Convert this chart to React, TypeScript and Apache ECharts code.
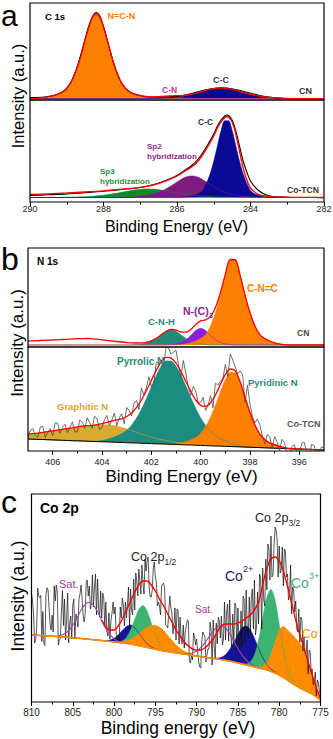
import React, { useEffect, useRef } from "react";
import * as echarts from "echarts";

const FONT = "'Liberation Sans', Arial, Helvetica, sans-serif";

/* ================= Panel a : C 1s  (290 -> 282 eV, sampled every 0.1 eV) ================= */
const aTopBg = 1.3;
const aNCNStart = 289.8;
const aNCN = [0.2,0.6,1.2,2,3,3.8,5.1,7.2,10.2,15.3,23,32.7,45,58.7,71.4,81.3,85,81.3,71.4,58.7,45,32.7,23,15.3,10.2,7.2,5.1,3.8,3,2,1.2,0.6,0.2];
const aCNStart = 287.0;
const aCN = [0.2,0.5,0.8,1.2,1.5,1.7,1.8,1.8,1.7,1.5,1.2,0.8,0.5,0.2,0.1];
const aCCStart = 286.7;
const aCC = [0.1,0.2,0.4,0.6,0.8,1.1,1.4,1.8,2.2,2.8,3.5,4.4,5.35,6.3,7.4,8.5,9.3,10.1,10.5,10.7,10.5,10.1,9.3,8.5,7.4,6.3,5.35,4.4,3.5,2.8,2.2,1.8,1.4,1.1,0.8,0.6,0.4,0.2,0.1];
const aTopData = [[290,2.5],[289.6,3],[289.3,5],[289.1,8.5],[289.0,12],[288.9,17],[288.8,25],[288.7,35],[288.6,47.5],[288.5,61],[288.4,74],[288.3,83.5],[288.2,87.5],[288.1,84],[288.0,73.5],[287.9,60.5],[287.8,46.5],[287.7,34],[287.6,24],[287.5,16.5],[287.4,11.5],[287.3,8.5],[287.2,6.5],[287.0,4.5],[286.8,3],[286.5,3],[286.2,3.3],[286.0,3.6],[285.8,5],[285.6,6.5],[285.4,8.5],[285.2,10.3],[285.0,11.5],[284.8,12.2],[284.6,11.8],[284.4,10.5],[284.2,8.8],[284.0,6.8],[283.8,5],[283.6,3.5],[283.4,2.5],[283.2,1.8],[283,1.5],[282.5,1.3],[282,1.3]];
const aBotBg = 4.5;
const aSp3Start = 289.1;
const aSp3 = [0.1,0.2,0.3,0.4,0.5,0.7,0.85,1.1,1.3,1.6,1.9,2.3,2.8,3.3,3.9,4.5,5.2,5.9,6.6,7.2,7.8,8.2,8.4,8.5,8.4,8.2,7.8,7.2,6.6,5.9,5.2,4.5,3.9,3.3,2.8,2.3,1.9,1.6,1.3,1.1,0.85,0.7,0.5,0.4,0.3,0.2,0.1];
const aSp2Start = 287.4;
const aSp2 = [0.1,0.3,0.5,0.8,1.2,1.6,2.2,3.0,3.9,5.1,6.7,8.6,10.75,13.1,15.5,17.8,19.9,21.1,21.5,21.1,19.9,17.8,15.5,13.1,10.75,8.6,6.7,5.1,3.9,3.0,2.2,1.6,1.2,0.8,0.5,0.3,0.1];
const aCC2Start = 285.8;
const aCC2 = [0.4,0.8,1.5,2.5,4,7,14,23.4,36.3,51.5,67,76.8,76.8,67,51.5,36.3,23.4,14,7,4,2.5,1.5,0.8,0.4];
const aBotFit = [[290,7.5],[289.5,8.2],[289,9],[288.5,10],[288,11.2],[287.5,12.8],[287,14.6],[286.6,17.5],[286.3,21],[286,26],[285.8,30.5],[285.6,35],[285.4,42],[285.2,53],[285.0,66],[284.9,74],[284.8,80],[284.7,84.5],[284.65,85.5],[284.6,85],[284.5,80],[284.4,68],[284.3,51],[284.2,34],[284.1,22],[284.0,14],[283.8,8],[283.6,6],[283.4,5.2],[283,4.8],[282.5,4.6],[282,4.5]];
const aBotData = [[290,6.5],[289.5,7.2],[289,8],[288.5,9.3],[288,10.8],[287.5,12.5],[287,14.5],[286.6,17.8],[286.3,21.5],[286,26.5],[285.8,31.5],[285.6,36.5],[285.4,44],[285.2,55],[285.0,68],[284.9,76],[284.8,82],[284.7,86],[284.65,87],[284.6,86.5],[284.5,82],[284.4,71],[284.3,56],[284.2,41],[284.1,30],[284.0,21],[283.8,12],[283.6,7.5],[283.4,5.5],[283,4.8],[282.5,4.5],[282,4.4]];

/* ================= Panel b : N 1s  (407 -> 395 eV, sampled every 0.2 eV) ================= */
const bTicks = [396, 398, 400, 402, 404, 406];
const bMinorTicks = [397, 399, 401, 403, 405];
const bTopBg = 2.0;
const bTopBumpStart = 407.0;
const bTopBump = [4.0,4.2,4.4,4.6,4.8,5.0,5.2,5.5,5.8,6.1,6.3,6.4,6.5,6.2,5.8,5.2,4.6,4.0,3.5,3.0,2.5,2.0,1.5,1.0,0.6,0.3,0.1];
const bCNHStart = 402.8;
const bCNH = [0.1,0.5,1.1,2.1,3.9,6.6,10.2,13.7,15,13.7,10.2,6.6,3.9,2.1,1.1,0.5,0.1];
const bNC3Start = 401.4;
const bNC3 = [0.1,0.5,1.2,2.5,5.2,9.4,14.4,16.7,14.4,9.4,5.2,2.5,1.2,0.5,0.1];
const bCNCStart = 400.8;
const bCNC = [0.3,1.0,2.2,4.0,6.4,10.2,19.1,32.3,49.7,69.7,85,85,69.7,49.7,32.3,19.1,10.2,6.4,4.0,2.2,1.0,0.3];
const bBotBg = [12.0,11.8,11.6,11.5,11.3,11.1,10.9,10.7,10.5,10.3,10.2,10.0,9.8,9.6,9.4,9.3,9.1,8.9,8.7,8.5,8.3,8.2,8.0,7.8,7.6,7.4,7.2,7.1,6.9,6.7,6.5,6.3,6.1,6.0,5.8,5.6,5.4,5.2,5.0,4.9,4.7,4.5,4.3,4.1,3.9,3.8,3.6,3.4,3.2,3.0,2.8,2.7,2.5,2.3,2.1,1.9,1.7,1.6,1.4,1.2,1.0];
const bGraphStart = 407.0;
const bGraph = [4.9,5.5,6.3,7.1,8.1,9.0,9.9,11.0,11.9,12.9,13.9,14.8,15.5,16.1,16.6,16.9,17,16.8,16.1,15.0,13.8,12.2,10.7,9.2,7.8,6.5,5.4,4.3,3.5,2.8,2.2,1.8,1.4,1.0,0.6,0.3,0.1];
const bPyrrStart = 404.2;
const bPyrr = [0.4,1.2,2.5,4.2,6.3,8.7,12.4,17.6,24.9,34.0,44.9,56.7,68.2,77.8,83.2,83.2,78.3,69.6,58.8,47.5,36.8,27.6,20.1,14.4,10.3,7.4,5.5,3.5,2.2,1.0,0.3];
const bPyriStart = 401.2;
const bPyri = [0.2,0.8,1.8,3.2,5.1,7.8,12.2,19,28.6,40.7,54.2,66.4,74,73.7,64.1,49.5,34.7,22.5,13.5,8.2,5.1,3.5,2.0,0.8,0.2];
const bNoiseA = [-3,5,-4,6,-1,-5,7,2,-4,6,-5,4,8,-3,6,-4,7,1,-6,5,9,-3,7,12,3,-6,8,2,11,4,13,-5,8,-4,9,3,-4,7,12,3,10,15,4,11,-5,8,2,9,-4,6,8,-4,5,-8,4,-5,7,-6,4,-3,2];
const bNoiseB = [4,-2,6,-5,3,8,-3,5,1,-4,7,-2,3,9,-5,4,-3,8,2,-5,6,10,-2,5,14,-3,7,-4,9,6,-2,11,-6,5,-3,8,1,-5,10,6,-2,9,-3,7,12,-4,6,-2,5,-5,3,7,-7,2,-4,6,-3,5,-5,3,0];

/* ================= Panel c : Co 2p  (810 -> 775 eV, sampled every 0.5 eV) ================= */
const cBg = [67.0,66.8,66.5,66.3,66.0,65.8,65.5,65.2,65.0,64.6,64.2,63.8,63.5,63.1,62.7,62.3,62.0,61.5,61.0,60.5,60.0,59.5,59.0,58.5,58.0,57.1,56.3,55.4,54.5,53.6,52.8,51.9,51.0,50.4,49.8,49.1,48.5,47.9,47.3,46.6,46.0,45.4,44.8,44.1,43.5,42.9,42.3,41.6,41.0,40.0,39.0,38.0,37.0,36.0,35.0,34.0,33.0,32.0,30.5,29.0,27.0,24.5,22.0,19.0,16.5,14.0,12.0,10.0,8.0,5.0,2.0];
const cSat1Start = 807.0;
const cSat1 = [0.5,1.3,3.2,6.8,12.5,20.1,28.2,34.6,37,34.6,28.2,20.1,12.5,6.8,3.2,1.3,0.5];
const cCo2aStart = 801.0;
const cCo2a = [0.5,1.5,3.7,7.6,12.6,17.1,19,17.1,12.6,7.6,3.7,1.5,0.5];
const cCo3aStart = 799.5;
const cCo3a = [0.5,2.0,6.0,13.9,25.3,36.3,41,36.3,25.3,13.9,6.0,2.0,0.5];
const cCoaStart = 800.0;
const cCoa = [0.3,0.7,1.5,2.9,5.0,8.1,12,16.2,20.2,23,24,23,20.2,16.2,12,8.1,5.0,2.9,1.5,0.7,0.3];
const cSat2Start = 791.5;
const cSat2 = [0.5,1.1,2.5,5.0,8.9,14.5,21,27.4,32.2,34,32.2,27.4,21,14.5,8.9,5.0,2.5,1.1,0.5];
const cCo2bStart = 788.0;
const cCo2b = [0.3,0.9,2.4,5.7,11.4,19.5,28.7,36.1,39,36.1,28.7,19.5,11.4,5.7,2.4,0.9,0.3];
const cCo3bStart = 784.5;
const cCo3b = [0.3,1.1,4.0,12,27.7,50.7,72.7,82,72.7,50.7,27.7,12,4.0,1.1,0.3];
const cCobStart = 783.0;
const cCob = [0.2,0.7,2.5,7.4,17.2,31.5,45,51,50,49,47,45,39,29,18,8,2];
const cFitStart = 801.5;
const cFit = [67,67,66.5,66.3,66,66,66,66.5,68,71,77,84,92,98,100,97,90,82,75,72,72,76,83,92,101,110,117,121,121,117,111,103,96,88,80,72,66,60,56,53,52,52,54,58,63,70,76,78,78,78,79,81,84,87,92,100,117,134,143,145,141,131,116,99,82,67,54,40,27,14,4];
// measured-trace scatter around the fit, at 0, 0.125, 0.25 and 0.375 eV below each sample
const cResidA = [42,-5,38,-8,46,21,51,-3,35,-12,20,-1,25,-10,16,-2,33,2,25,-9,16,-11,21,-8,12,-18,16,-3,20,-12,14,-7,23,-14,10,-10,19,-6,25,-11,11,-18,12,-5,19,-12,10,-16,24,-20,15,-26,28,-18,30,-22,17,-22,23,30,15,-15,12,-11,19,-7,11,-12,6,-8,4];
const cResidC = [34,7,40,-10,29,4,44,25,-6,7,26,-9,13,21,-7,18,5,27,-4,10,23,-15,14,6,-10,19,3,-13,24,-5,9,-16,17,2,-12,21,-4,11,-15,16,-2,9,-14,22,-8,15,-19,12,-9,21,-23,25,-11,19,-25,28,-15,24,-18,27,-12,22,-14,16,-9,18,-5,12,-10,8,0];
const cResidB = [21,47,-6,41,12,50,-9,45,14,15,-14,19,-5,24,-2,31,-5,22,-9,17,-3,19,-7,23,-14,11,-9,22,-6,17,-15,13,-19,18,-3,20,-8,16,-17,12,-12,18,-7,14,-19,11,-13,20,-24,18,-28,22,-20,26,-17,24,-21,19,-16,17,-8,20,-10,13,-12,15,-6,10,-7,5,-3];
const cResidD = [-8,39,24,48,6,35,-4,10,41,-8,11,24,-12,8,27,-10,21,-6,14,28,-13,8,17,-18,22,-4,20,10,-16,23,-11,15,-20,6,14,-14,11,22,-9,4,-17,15,-1,-21,16,-6,24,-17,10,-26,12,-22,21,-14,18,-27,26,-12,13,-20,14,-6,21,-9,11,-16,8,-10,3,-4,0];

/* ---------------- helpers that turn the arrays into series ---------------- */
function energyGrid(hi: number, lo: number, step: number): number[] {
  const n = Math.round((hi - lo) / step);
  const out: number[] = [];
  for (let i = 0; i <= n; i++) out.push(Math.round((hi - i * step) * 1000) / 1000);
  return out;
}
function place(g: number[], start: number, vals: number[]): number[] {
  const out = g.map(() => 0);
  const i0 = g.findIndex((e) => Math.abs(e - start) < 1e-6);
  vals.forEach((v, k) => {
    if (i0 >= 0 && i0 + k < out.length) out[i0 + k] = v;
  });
  return out;
}
function sumArrays(base: number[], ...arrs: number[][]): number[] {
  return base.map((b, i) => arrs.reduce((s, a) => s + a[i], b));
}
function pairs(g: number[], v: number[]) {
  return g.map((e, i) => [e, v[i]]);
}
// a fitted component drawn on top of its background (filled down to the axis; a white mask later hides what lies below the background)
function peak(id: string, ax: number, g: number[], base: number[], comp: number[], color: string, fill = true, width = 0.6): any {
  const s: any = {
    type: "line", name: id, xAxisIndex: ax, yAxisIndex: ax, symbol: "none", smooth: 0.3, silent: true,
    data: pairs(g, base.map((b, i) => b + comp[i])), lineStyle: { width, color },
  };
  if (fill) s.areaStyle = { color, opacity: 1, origin: "start" };
  return s;
}
// satellite outline only where the component is present
function outline(id: string, ax: number, g: number[], base: number[], comp: number[], color: string): any {
  const data = g.map((e, i) => [e, base[i] + comp[i]]).filter((_, i) => comp[i] > 0);
  return { type: "line", name: id, xAxisIndex: ax, yAxisIndex: ax, symbol: "none", smooth: 0.3, silent: true, data, lineStyle: { width: 1.1, color } };
}
function mask(id: string, ax: number, g: number[], base: number[]): any {
  return {
    type: "line", name: id, xAxisIndex: ax, yAxisIndex: ax, symbol: "none", smooth: false, silent: true,
    data: pairs(g, base), lineStyle: { width: 0, opacity: 0 }, areaStyle: { color: "#fff", opacity: 1, origin: "start" },
  };
}
function line(id: string, ax: number, data: number[][], color: string, width: number, smooth: number | boolean): any {
  return { type: "line", name: id, xAxisIndex: ax, yAxisIndex: ax, data, symbol: "none", smooth, silent: true, lineStyle: { color, width } };
}
function txt(text: string, x: number, y: number, size: number, color: string, weight = "normal", align = "left", rotation = 0): any {
  return {
    type: "text", x, y, rotation, silent: true, z: 100,
    style: { text, fill: color, fontSize: size, fontWeight: weight, fontFamily: FONT, align, verticalAlign: "middle" },
  };
}

function buildOption(): any {
  // ---- panel a
  const aE = energyGrid(290, 282, 0.1);
  const aTopBase = aE.map(() => aTopBg);
  const aNCNv = place(aE, aNCNStart, aNCN);
  const aCNv = place(aE, aCNStart, aCN);
  const aCCv = place(aE, aCCStart, aCC);
  const aTopFit = sumArrays(aTopBase, aNCNv, aCNv, aCCv);
  const aBotBase = aE.map(() => aBotBg);
  const aSp3v = place(aE, aSp3Start, aSp3);
  const aSp2v = place(aE, aSp2Start, aSp2);
  const aCC2v = place(aE, aCC2Start, aCC2);

  // ---- panel b
  const bE = energyGrid(407, 395, 0.2);
  const bTopBase = bE.map(() => bTopBg);
  const bBumpv = place(bE, bTopBumpStart, bTopBump);
  const bCNHv = place(bE, bCNHStart, bCNH);
  const bNC3v = place(bE, bNC3Start, bNC3);
  const bCNCv = place(bE, bCNCStart, bCNC);
  const bTopFit = sumArrays(bTopBase, bBumpv, bCNHv, bNC3v, bCNCv);
  const bGraphv = place(bE, bGraphStart, bGraph);
  const bPyrrv = place(bE, bPyrrStart, bPyrr);
  const bPyriv = place(bE, bPyriStart, bPyri);
  const bBotFit = sumArrays(bBotBg, bGraphv, bPyrrv, bPyriv);
  const bBotData: number[][] = [];
  bE.forEach((e, i) => {
    bBotData.push([e, bBotFit[i] + bNoiseA[i]]);
    if (i < bE.length - 1) bBotData.push([Math.round((e - 0.1) * 1000) / 1000, bBotFit[i] + bNoiseB[i]]);
  });

  // ---- panel c
  const cE = energyGrid(810, 775, 0.5);
  const cData: number[][] = [];
  cE.forEach((e, i) => {
    cData.push([e, cFit[i] + cResidA[i]]);
    if (i < cE.length - 1) {
      cData.push([e - 0.125, cFit[i] + cResidC[i]]);
      cData.push([e - 0.25, cFit[i] + cResidB[i]]);
      cData.push([e - 0.375, cFit[i] + cResidD[i]]);
    }
  });
  const cFitIdx = cE.findIndex((e) => Math.abs(e - cFitStart) < 1e-6);
  const cFitLine = cE.slice(cFitIdx).map((e, k) => [e, cFit[cFitIdx + k]]);

  const grids = [
    { left: 30, top: 3, width: 294, height: 97 },
    { left: 30, top: 100, width: 294, height: 102 },
    { left: 28, top: 248, width: 296, height: 99 },
    { left: 28, top: 347, width: 296, height: 104 },
    { left: 31.5, top: 494, width: 289, height: 208 },
  ].map((g) => ({ ...g, show: true, borderColor: "#000", borderWidth: 1.2, backgroundColor: "transparent", containLabel: false, outerBoundsMode: "none", z: 10 }));

  const hidden = (gi: number, min: number, max: number) => ({ gridIndex: gi, type: "value", min, max, inverse: true, show: false });
  const labelStyle = (size: number, margin: number) => ({ show: true, fontSize: size, color: "#222", fontFamily: FONT, margin });
  const xAxis = [
    hidden(0, 282, 290),
    {
      gridIndex: 1, type: "value", min: 282, max: 290, interval: 2, inverse: true,
      axisLine: { show: false }, splitLine: { show: false },
      axisTick: { show: true, inside: false, length: 4, lineStyle: { color: "#000", width: 1 } },
      minorTick: { show: true, splitNumber: 2, length: 2.5, lineStyle: { color: "#000", width: 1 } },
      axisLabel: labelStyle(9, 2.5),
    },
    hidden(2, 395, 407),
    {
      gridIndex: 3, type: "value", min: 395, max: 407, inverse: true, position: "bottom",
      axisLine: { show: false }, splitLine: { show: false },
      axisTick: { show: true, inside: false, length: 4, customValues: bTicks, lineStyle: { color: "#000", width: 1 } },
      axisLabel: { ...labelStyle(9, 6), customValues: bTicks },
    },
    {
      gridIndex: 4, type: "value", min: 775, max: 810, interval: 5, inverse: true,
      axisLine: { show: false }, splitLine: { show: false },
      axisTick: { show: true, inside: false, length: 4, lineStyle: { color: "#000", width: 1 } },
      minorTick: { show: true, splitNumber: 2, length: 2.5, lineStyle: { color: "#000", width: 1 } },
      axisLabel: labelStyle(10, 5.5),
    },
    {
      gridIndex: 3, type: "value", min: 395, max: 407, inverse: true, position: "bottom",
      axisLine: { show: false }, splitLine: { show: false }, axisLabel: { show: false },
      axisTick: { show: true, inside: false, length: 2.5, customValues: bMinorTicks, lineStyle: { color: "#000", width: 1 } },
    },
  ];
  const yAxis = [97, 102, 99, 104, 208].map((h, gi) => ({ gridIndex: gi, type: "value", min: 0, max: h, show: false }));

  const series: any[] = [
    // a top
    peak("aNCN", 0, aE, aTopBase, aNCNv, "#FF8000"),
    peak("aCN", 0, aE, aTopBase, aCNv, "#B040C0"),
    peak("aCC", 0, aE, aTopBase, aCCv, "#0A0A8C"),
    mask("aTopMask", 0, aE, aTopBase),
    line("aTopData", 0, aTopData, "#000", 1.1, 0.3),
    line("aTopFit", 0, pairs(aE, aTopFit), "#FF0000", 1.3, 0.3),
    // a bottom
    peak("aSp3", 1, aE, aBotBase, aSp3v, "#0A8A2A"),
    peak("aSp2", 1, aE, aBotBase, aSp2v, "#7E1A80"),
    peak("aCC2", 1, aE, aBotBase, aCC2v, "#0A0A96"),
    mask("aBotMask", 1, aE, aBotBase),
    line("aBotData", 1, aBotData, "#000", 1.1, 0.3),
    line("aBotFit", 1, aBotFit, "#FF0000", 1.3, 0.3),
    // b top
    peak("bCNH", 2, bE, bTopBase, bCNHv, "#1F8A78"),
    peak("bNC3", 2, bE, bTopBase, bNC3v, "#8A1FE0"),
    peak("bCNC", 2, bE, bTopBase, bCNCv, "#FF8000"),
    mask("bTopMask", 2, bE, bTopBase),
    line("bTopFit", 2, pairs(bE, bTopFit), "#FF0000", 1.3, 0.3),
    // b bottom
    peak("bGraph", 3, bE, bBotBg, bGraphv, "#D9AA30"),
    peak("bPyrr", 3, bE, bBotBg, bPyrrv, "#1B8C80"),
    peak("bPyri", 3, bE, bBotBg, bPyriv, "#FF8000"),
    mask("bBotMask", 3, bE, bBotBg),
    line("bBotBg", 3, pairs(bE, bBotBg), "#000", 1, false),
    line("bBotData", 3, bBotData, "#4a4a4a", 0.8, false),
    line("bBotFit", 3, pairs(bE, bBotFit), "#FF0000", 1.3, 0.3),
    // c
    peak("cCo2a", 4, cE, cBg, place(cE, cCo2aStart, cCo2a), "#141496"),
    peak("cCo3a", 4, cE, cBg, place(cE, cCo3aStart, cCo3a), "#3CB371"),
    peak("cCoa", 4, cE, cBg, place(cE, cCoaStart, cCoa), "#FF8C00"),
    peak("cCo2b", 4, cE, cBg, place(cE, cCo2bStart, cCo2b), "#141496"),
    peak("cCo3b", 4, cE, cBg, place(cE, cCo3bStart, cCo3b), "#3CB371"),
    peak("cCob", 4, cE, cBg, place(cE, cCobStart, cCob), "#FF8C00"),
    mask("cMask", 4, cE, cBg),
    line("cData", 4, cData, "#111", 0.7, false),
    outline("cSat1", 4, cE, cBg, place(cE, cSat1Start, cSat1), "#A040B0"),
    outline("cSat2", 4, cE, cBg, place(cE, cSat2Start, cSat2), "#A040B0"),
    line("cBg", 4, pairs(cE, cBg), "#FF8C00", 1.6, 0.3),
    line("cFit", 4, cFitLine, "#FF0000", 1.4, 0.3),
  ];

  const graphic = [
    txt("a", 1, 15.5, 30, "#000"),
    txt("b", 1, 259, 32, "#000"),
    txt("c", 1, 502, 32, "#000"),
    txt("Intensity (a.u.)", 17.5, 96, 16.5, "#000", "normal", "center", Math.PI / 2),
    txt("Intensity (a.u.)", 17.5, 343, 17, "#000", "normal", "center", Math.PI / 2),
    txt("Intensity (a.u.)", 17.5, 596, 17.5, "#000", "normal", "center", Math.PI / 2),
    txt("Binding Energy (eV)", 176.5, 226.5, 16, "#000", "normal", "center"),
    txt("Binding Energy (eV)", 181.5, 476.5, 17, "#000", "normal", "center"),
    txt("Binding energy (eV)", 178, 727.5, 17.5, "#000", "normal", "center"),
    // panel a
    txt("C 1s", 45, 16, 9.5, "#000", "bold"),
    txt("N=C-N", 107.5, 15.5, 9, "#FF8000", "bold"),
    txt("C-N", 162, 89.5, 8.5, "#B03A9A", "bold"),
    txt("C-C", 213, 80, 9, "#3A3A66", "bold"),
    txt("CN", 299, 91, 9, "#333", "bold"),
    txt("C-C", 198, 121.5, 8.5, "#333", "bold"),
    txt("Sp2", 147, 146, 8, "#8B2A8B", "bold"),
    txt("hybridization", 147, 156, 8, "#8B2A8B", "bold"),
    txt("Sp3", 100, 171, 8, "#2E8B3E", "bold"),
    txt("hybridization", 100, 181, 8, "#2E8B3E", "bold"),
    txt("Co-TCN", 287, 190, 8.6, "#333", "bold"),
    // panel b
    txt("N 1s", 37, 261.5, 10, "#000", "bold"),
    txt("C-N=C", 247, 288.5, 10, "#FF8000", "bold"),
    txt("N-(C)", 183, 311, 10.5, "#7E2A90", "bold"),
    txt("3", 209, 315, 7, "#7E2A90", "bold"),
    txt("C-N-H", 148, 321.5, 9.5, "#2A8A7A", "bold"),
    txt("CN", 297, 333, 8.5, "#444", "bold"),
    txt("Pyrrolic N", 117, 361, 10, "#2A8A7A", "bold"),
    txt("Pyridinic N", 248, 382, 9.5, "#2A8A7A", "bold"),
    txt("Graphitic N", 57, 406, 9.5, "#D9A62A", "bold"),
    txt("Co-TCN", 287, 424, 9, "#555", "bold"),
    // panel c
    txt("Co 2p", 40, 507.5, 14, "#000", "bold"),
    txt("Co 2p", 131, 556.5, 12.5, "#222"),
    txt("1/2", 164.5, 562, 8.5, "#222"),
    txt("Co 2p", 255, 518, 12.5, "#222"),
    txt("3/2", 288.5, 523, 8.5, "#222"),
    txt("Sat.", 59, 584, 11, "#9B3A9B"),
    txt("Sat.", 195, 609, 10, "#9B3A9B"),
    txt("Co", 225, 576, 14, "#1C1C6C"),
    txt("2+", 243, 569, 9, "#1C1C6C"),
    txt("Co", 291, 583, 14, "#3CB371"),
    txt("3+", 309, 576, 9, "#3CB371"),
    txt("Co", 302, 634, 12, "#FF8C00"),
  ];

  return { animation: false, backgroundColor: "#fff", grid: grids, xAxis, yAxis, series, graphic };
}

export default function App() {
  const ref = useRef<HTMLDivElement>(null);
  useEffect(() => {
    if (!ref.current) return;
    const chart = echarts.init(ref.current, null, { renderer: "svg" });
    chart.setOption(buildOption());
    return () => chart.dispose();
  }, []);
  return <div ref={ref} style={{ position: "absolute", left: 0, top: 0, width: 333, height: 739, background: "#fff" }} />;
}
